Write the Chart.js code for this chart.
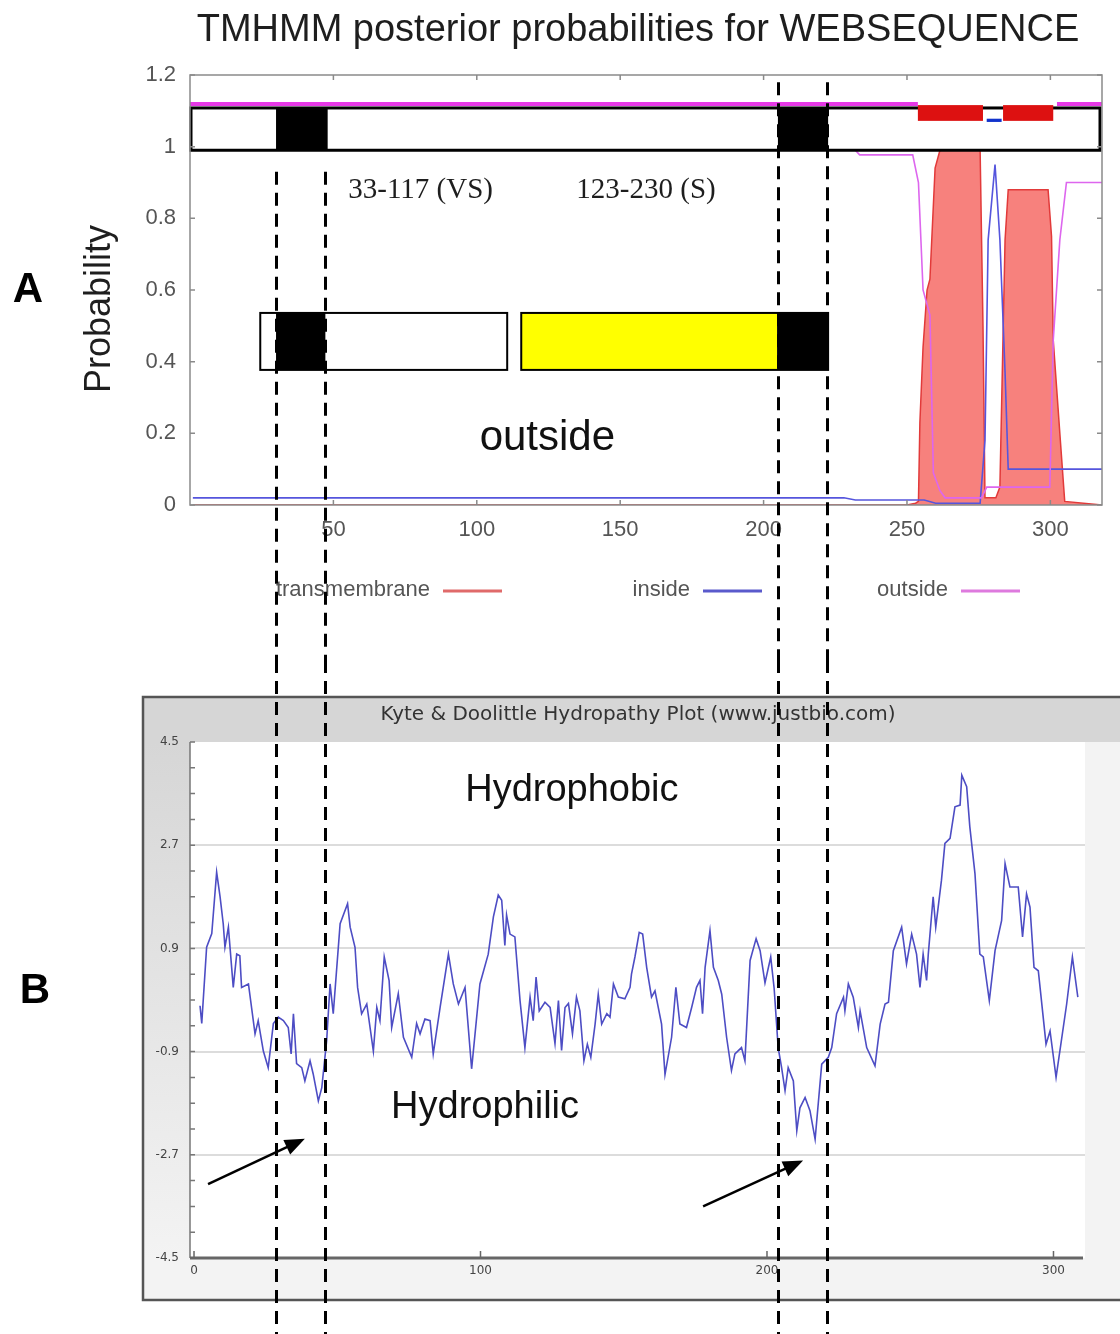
<!DOCTYPE html>
<html>
<head>
<meta charset="utf-8">
<title>TMHMM and hydropathy</title>
<script src="https://cdn.jsdelivr.net/npm/chart.js@4.4.0/dist/chart.umd.min.js"></script>
<style>
    html, body { margin: 0; padding: 0; background: #ffffff; }
    #wrap { position: relative; width: 1120px; height: 1334px; overflow: hidden; }
    #chartA { position: absolute; left: 0; top: 0; }
    #chartB { position: absolute; left: 0; top: 660px; }
</style>
</head>
<body>
<div id="wrap">
    <canvas id="chartA" width="1120" height="660"></canvas>
    <canvas id="chartB" width="1120" height="674"></canvas>
</div>
<script>
(function() {
    'use strict';

    // ---- Painel A: probabilidades posteriores TMHMM ----
    var tmPos  = [1, 250, 253, 254, 254.5, 255.6, 257, 258, 259.8, 261.5, 268, 275.5, 276.5, 277.2, 281, 282.4, 284.2, 285.3, 292, 299.2, 300.4, 301, 303.3, 305, 318];
    var tmProb = [0, 0, 0.005, 0.01, 0.23, 0.44, 0.6, 0.63, 0.94, 0.99, 1.0, 0.99, 0.5, 0.02, 0.02, 0.05, 0.74, 0.88, 0.88, 0.88, 0.75, 0.46, 0.2, 0.01, 0];

    var inPos  = [1, 228, 232, 256, 260, 275.5, 277.2, 278.3, 280.7, 282.4, 284.2, 285.3, 287, 318];
    var inProb = [0.02, 0.02, 0.014, 0.014, 0.005, 0.005, 0.18, 0.74, 0.95, 0.74, 0.37, 0.1, 0.1, 0.1];

    var outPos  = [1, 232, 233.5, 252, 254, 255.6, 258, 259.2, 261.5, 263.3, 276, 277.8, 280, 299.8, 301, 303.3, 305.6, 318];
    var outProb = [0.99, 0.99, 0.977, 0.977, 0.9, 0.6, 0.53, 0.09, 0.04, 0.02, 0.02, 0.05, 0.05, 0.05, 0.46, 0.74, 0.9, 0.9];

    var xTicksA = [50, 100, 150, 200, 250, 300];
    var yTicksA = [0, 0.2, 0.4, 0.6, 0.8, 1, 1.2];

    // faixa superior do TMHMM (topologia prevista)
    var bandOutside = [[0, 253.8], [302.3, 318]];
    var bandTm      = [[253.8, 276.5], [283.5, 301]];
    var bandInside  = [[277.8, 283]];

    // anotações da figura (regiões e domínios)
    var tmBlocks    = [[30, 48], [205, 222.5]];
    var domainBoxes = [[24.5, 110.6, '#ffffff'], [115.5, 204.7, '#ffff00']];
    var domainLabels = [['33-117 (VS)', 80.4], ['123-230 (S)', 159]];
    var dashMarks   = [30, 47, 205, 222];
    var dashStart   = [0.93, 0.93, 1.18, 1.18];

    // ---- Painel B: Kyte & Doolittle ----
    var kdPos = [2.1, 2.7, 4.4, 6.2, 7.9, 9.1, 10.2, 10.8, 12.0, 13.7, 14.9, 16.0, 16.6, 19.0, 21.3, 22.4, 24.2, 25.9, 27.7, 29.4,
        31.2, 32.9, 33.9, 34.7, 35.8, 37.6, 38.7, 40.5, 41.6, 43.4, 44.6, 46.3, 47.5, 48.6, 51.0, 53.6, 54.5, 56.2, 57.1, 58.5,
        60.3, 62.6, 63.8, 64.9, 66.4, 68.1, 69.0, 71.3, 73.1, 76.0, 77.7, 78.9, 80.6, 82.4, 83.5, 85.9, 88.8, 90.5, 92.3, 94.6,
        96.9, 99.8, 102.7, 104.5, 106.2, 107.4, 108.5, 109.1, 110.3, 112.0, 113.8, 115.5, 117.3, 118.4, 119.4, 120.5, 122.5, 124.3, 126.0, 127.2,
        128.3, 129.5, 130.7, 132.1, 133.5, 134.7, 136.1, 137.3, 138.5, 140.0, 141.1, 142.3, 144.1, 145.2, 146.4, 148.1, 150.4, 152.2, 152.7, 153.9,
        155.4, 156.6, 158.0, 159.7, 160.9, 163.2, 164.4, 166.7, 168.2, 169.6, 171.9, 173.7, 175.4, 176.6, 177.5, 178.4, 180.1, 181.3, 183.0, 184.2,
        185.9, 187.6, 188.8, 191.1, 192.3, 194.1, 196.2, 197.6, 199.3, 201.3, 202.5, 203.9, 205.1, 206.3, 207.4, 209.2, 210.4, 211.5, 213.3, 215.0,
        216.8, 219.1, 221.4, 222.6, 224.3, 226.7, 227.2, 228.4, 230.1, 231.9, 232.5, 234.8, 237.7, 239.5, 241.2, 242.4, 244.1, 247.0, 248.7, 250.5,
        252.2, 253.4, 254.5, 255.7, 256.3, 258.0, 258.9, 260.9, 262.1, 263.9, 265.6, 267.4, 268.0, 269.7, 270.8, 272.6, 274.3, 275.5, 277.6, 279.6,
        281.9, 283.1, 284.8, 287.7, 289.2, 290.6, 291.8, 293.2, 294.7, 297.4, 298.8, 300.9, 304.6, 306.6, 308.5];
    var kdScore = [-0.1, -0.41, 0.92, 1.16, 2.23, 1.8, 1.33, 0.92, 1.27, 0.22, 0.8, 0.77, 0.22, 0.28, -0.59, -0.36, -0.89, -1.18, -0.41, -0.3,
        -0.36, -0.48, -0.94, -0.24, -1.11, -1.18, -1.41, -1.06, -1.29, -1.76, -1.53, -0.71, 0.28, -0.24, 1.33, 1.68, 1.27, 0.92, 0.22, -0.24,
        -0.07, -0.89, -0.13, -0.36, 0.75, 0.34, -0.48, 0.11, -0.65, -1.0, -0.41, -0.59, -0.33, -0.36, -0.94, -0.13, 0.8, 0.28, -0.07, 0.22,
        -1.2, 0.28, 0.8, 1.45, 1.83, 1.74, 0.95, 1.48, 1.15, 1.1, -0.01, -0.83, 0.05, -0.36, 0.4, -0.19, -0.04, -0.13, -0.76, -0.01,
        -0.88, -0.13, -0.06, -0.59, 0.05, -0.19, -1.06, -0.77, -1.0, -0.42, 0.1, -0.42, -0.24, -0.3, 0.28, 0.05, 0.02, 0.22, 0.45, 0.75,
        1.18, 1.15, 0.57, 0.05, 0.16, -0.42, -1.3, -0.65, 0.22, -0.42, -0.48, -0.13, 0.22, 0.34, -0.24, 0.57, 1.21, 0.57, 0.34, 0.1,
        -0.65, -1.23, -0.94, -0.83, -1.06, 0.69, 1.07, 0.86, 0.3, 0.75, 0.2, -0.83, -1.18, -1.58, -1.18, -1.41, -2.28, -1.88, -1.7, -1.93,
        -2.43, -1.12, -1.0, -0.83, -0.24, 0.05, -0.19, 0.28, 0.05, -0.48, -0.19, -0.83, -1.15, -0.42, -0.07, -0.04, 0.86, 1.27, 0.63, 1.15,
        0.8, 0.22, 0.8, 0.34, 0.8, 1.8, 1.27, 2.09, 2.73, 2.82, 3.37, 3.4, 3.92, 3.72, 3.02, 2.2, 0.8, 0.75, -0.01, 0.86,
        1.39, 2.38, 1.97, 1.97, 1.1, 1.85, 1.62, 0.57, 0.51, -0.77, -0.54, -1.35, -0.07, 0.75, 0.05];

    var xTicksB = [0, 100, 200, 300];
    var yTicksB = [4.5, 2.7, 0.9, -0.9, -2.7, -4.5];

    // setas (posição, escore) -> (posição, escore)
    var arrowsB = [[4.9, -3.21, 38.7, -2.42], [177.7, -3.6, 212.6, -2.8]];

    var sansFont = "Arial, 'Liberation Sans', sans-serif";
    var tickFont = "'Liberation Sans Narrow', 'Arial Narrow', Arial, sans-serif";
    var kdFont = "'DejaVu Sans', Verdana, sans-serif";

    function toXY(xs, ys) {
        return xs.map(function(x, i) { return { x: x, y: ys[i] }; });
    }

    function fixTicks(list) {
        return function(scale) {
            scale.ticks = list.map(function(v) { return { value: v }; });
        };
    }

    function drawDashes(chart, xs, tops) {
        var ctx = chart.ctx;
        ctx.save();
        ctx.strokeStyle = '#000000';
        ctx.lineWidth = 3;
        ctx.setLineDash([13, 8]);
        dashMarks.forEach(function(m, i) {
            var x = Math.round(xs.getPixelForValue(m)) + 0.5;
            ctx.beginPath();
            ctx.moveTo(x, tops[i]);
            ctx.lineTo(x, chart.height);
            ctx.stroke();
        });
        ctx.restore();
    }

    var decorA = {
        id: 'decorA',
        afterDatasetsDraw: function(chart) {
            var ctx = chart.ctx, xs = chart.scales.x, ys = chart.scales.y, a = chart.chartArea;
            var px = function(v) { return xs.getPixelForValue(v); };
            var py = function(v) { return ys.getPixelForValue(v); };

            ctx.save();

            // caixa superior com segmentos transmembrana
            var bTop = py(1.108), bBot = py(0.99);
            ctx.fillStyle = '#ffffff';
            ctx.fillRect(a.left, bTop, a.right - a.left - 2, bBot - bTop);
            ctx.fillStyle = '#000000';
            tmBlocks.forEach(function(s) {
                ctx.fillRect(px(s[0]), bTop, px(s[1]) - px(s[0]), bBot - bTop);
            });
            ctx.strokeStyle = '#000000';
            ctx.lineWidth = 3;
            ctx.strokeRect(a.left + 1, bTop, a.right - a.left - 3, bBot - bTop);

            // faixa de topologia
            ctx.strokeStyle = '#e639e6';
            ctx.lineWidth = 4;
            bandOutside.forEach(function(s) {
                ctx.beginPath();
                ctx.moveTo(px(s[0]), py(1.119));
                ctx.lineTo(px(s[1]), py(1.119));
                ctx.stroke();
            });
            ctx.fillStyle = '#dd1111';
            bandTm.forEach(function(s) {
                ctx.fillRect(px(s[0]), py(1.116), px(s[1]) - px(s[0]), py(1.072) - py(1.116));
            });
            ctx.fillStyle = '#1133cc';
            bandInside.forEach(function(s) {
                ctx.fillRect(px(s[0]), py(1.078), px(s[1]) - px(s[0]), py(1.069) - py(1.078));
            });

            // caixas de domínio
            var dTop = py(0.536), dBot = py(0.377);
            domainBoxes.forEach(function(b) {
                ctx.fillStyle = b[2];
                ctx.fillRect(px(b[0]), dTop, px(b[1]) - px(b[0]), dBot - dTop);
            });
            ctx.fillStyle = '#000000';
            ctx.fillRect(px(30), dTop, px(47.2) - px(30), dBot - dTop);
            ctx.fillRect(px(204.7), dTop, px(222.5) - px(204.7), dBot - dTop);
            ctx.strokeStyle = '#000000';
            ctx.lineWidth = 2;
            ctx.strokeRect(px(24.5), dTop, px(110.6) - px(24.5), dBot - dTop);
            ctx.strokeRect(px(115.5), dTop, px(222.5) - px(115.5), dBot - dTop);

            // textos
            ctx.fillStyle = '#1e1e1e';
            ctx.textAlign = 'center';
            ctx.textBaseline = 'middle';
            ctx.font = "29px 'Liberation Serif', 'Times New Roman', serif";
            domainLabels.forEach(function(l) {
                ctx.fillText(l[0], px(l[1]), py(0.879));
            });
            ctx.font = '42px ' + sansFont;
            ctx.fillStyle = '#111111';
            ctx.fillText('outside', px(124.6), py(0.187));

            // moldura
            ctx.strokeStyle = '#8a8a8a';
            ctx.lineWidth = 1.5;
            ctx.strokeRect(a.left, a.top, a.right - a.left, a.bottom - a.top);
            ctx.beginPath();
            xTicksA.forEach(function(v) {
                ctx.moveTo(px(v), a.top); ctx.lineTo(px(v), a.top + 5);
                ctx.moveTo(px(v), a.bottom); ctx.lineTo(px(v), a.bottom - 5);
            });
            yTicksA.forEach(function(v) {
                ctx.moveTo(a.left, py(v)); ctx.lineTo(a.left + 5, py(v));
                ctx.moveTo(a.right, py(v)); ctx.lineTo(a.right - 5, py(v));
            });
            ctx.stroke();
            ctx.restore();
        },
        afterDraw: function(chart) {
            var ctx = chart.ctx, ys = chart.scales.y;
            ctx.save();

            // título
            ctx.fillStyle = '#1e1e1e';
            ctx.font = '38px ' + sansFont;
            ctx.textAlign = 'center';
            ctx.textBaseline = 'middle';
            ctx.fillText('TMHMM posterior probabilities for WEBSEQUENCE', 638, 31);

            // rótulo do eixo y
            ctx.translate(100, 309);
            ctx.rotate(-Math.PI / 2);
            ctx.font = '36px ' + sansFont;
            ctx.fillText('Probability', 0, 0);
            ctx.setTransform(1, 0, 0, 1, 0, 0);

            ctx.font = 'bold 42px ' + sansFont;
            ctx.fillStyle = '#000000';
            ctx.fillText('A', 28, 290);

            // legenda: texto seguido da amostra de linha
            var ends = [430, 690, 948];
            var colors = ['#e06a6a', '#5a5acc', '#de7ade'];
            ctx.font = '22px ' + tickFont;
            ctx.textAlign = 'right';
            chart.data.datasets.forEach(function(ds, i) {
                ctx.fillStyle = '#555555';
                ctx.fillText(ds.label, ends[i], 590);
                ctx.strokeStyle = colors[i];
                ctx.lineWidth = 3;
                ctx.beginPath();
                ctx.moveTo(ends[i] + 13, 591);
                ctx.lineTo(ends[i] + 72, 591);
                ctx.stroke();
            });
            ctx.restore();

            drawDashes(chart, chart.scales.x, dashStart.map(function(v) { return ys.getPixelForValue(v); }));
        }
    };

    var chartA = new Chart(document.getElementById('chartA'), {
        type: 'line',
        data: {
            datasets: [{
                label: 'transmembrane',
                data: toXY(tmPos, tmProb),
                borderColor: '#e23a3a',
                backgroundColor: 'rgba(246, 118, 114, 0.92)',
                fill: 'origin',
                borderWidth: 1.5,
                pointRadius: 0,
                order: 3
            }, {
                label: 'inside',
                data: toXY(inPos, inProb),
                borderColor: '#5555dd',
                borderWidth: 1.6,
                pointRadius: 0,
                fill: false,
                order: 2
            }, {
                label: 'outside',
                data: toXY(outPos, outProb),
                borderColor: '#dd66ee',
                borderWidth: 1.6,
                pointRadius: 0,
                fill: false,
                order: 1
            }]
        },
        options: {
            responsive: false,
            animation: false,
            layout: { padding: { left: 80, right: 18, top: 75, bottom: 115 } },
            plugins: {
                legend: { display: false },
                tooltip: { enabled: false }
            },
            scales: {
                x: {
                    type: 'linear',
                    min: 0,
                    max: 318,
                    afterBuildTicks: fixTicks(xTicksA),
                    afterFit: function(s) { s.height = 40; },
                    grid: { display: false, drawTicks: false },
                    border: { display: false },
                    ticks: { color: '#555555', padding: 12, maxRotation: 0, font: { family: tickFont, size: 22 } }
                },
                y: {
                    min: 0,
                    max: 1.2,
                    afterBuildTicks: fixTicks(yTicksA),
                    afterFit: function(s) { s.width = 110; },
                    grid: { display: false, drawTicks: false },
                    border: { display: false },
                    ticks: {
                        color: '#555555',
                        padding: 14,
                        font: { family: tickFont, size: 22 },
                        callback: function(v) { return String(Math.round(v * 10) / 10); }
                    }
                }
            }
        },
        plugins: [decorA]
    });

    // ---- Painel B ----
    var decorB = {
        id: 'decorB',
        beforeDraw: function(chart) {
            var ctx = chart.ctx, a = chart.chartArea;
            ctx.save();
            ctx.fillStyle = '#f3f3f3';
            ctx.fillRect(143, 37, chart.width - 143, 603);
            ctx.fillStyle = '#d6d6d6';
            ctx.fillRect(143, 37, chart.width - 143, a.top - 37);
            var g = ctx.createLinearGradient(0, a.top, 0, a.bottom);
            g.addColorStop(0, '#d6d6d6');
            g.addColorStop(1, '#f3f3f3');
            ctx.fillStyle = g;
            ctx.fillRect(143, a.top, a.left - 143, a.bottom - a.top);
            ctx.fillStyle = '#ffffff';
            ctx.fillRect(a.left, a.top, a.right - a.left, a.bottom - a.top);
            ctx.strokeStyle = '#555555';
            ctx.lineWidth = 2.5;
            ctx.beginPath();
            ctx.moveTo(chart.width, 37);
            ctx.lineTo(143, 37);
            ctx.lineTo(143, 640);
            ctx.lineTo(chart.width, 640);
            ctx.stroke();

            ctx.fillStyle = '#333333';
            ctx.font = '20px ' + kdFont;
            ctx.textAlign = 'center';
            ctx.textBaseline = 'middle';
            ctx.fillText('Kyte & Doolittle Hydropathy Plot (www.justbio.com)', 638, 55);
            ctx.restore();
        },
        afterDatasetsDraw: function(chart) {
            var ctx = chart.ctx, a = chart.chartArea, xs = chart.scales.x, ys = chart.scales.y;
            ctx.save();
            // eixo esquerdo com marcas menores
            ctx.strokeStyle = '#777777';
            ctx.lineWidth = 1.5;
            ctx.beginPath();
            ctx.moveTo(a.left, a.top);
            ctx.lineTo(a.left, a.bottom);
            for (var v = -4.5; v <= 4.5001; v += 0.45) {
                ctx.moveTo(a.left, ys.getPixelForValue(v));
                ctx.lineTo(a.left + 5, ys.getPixelForValue(v));
            }
            ctx.stroke();
            // eixo inferior
            ctx.strokeStyle = '#666666';
            ctx.lineWidth = 3;
            ctx.beginPath();
            ctx.moveTo(a.left, a.bottom);
            ctx.lineTo(a.right - 2, a.bottom);
            ctx.stroke();
            ctx.lineWidth = 1.5;
            ctx.beginPath();
            xTicksB.forEach(function(t) {
                ctx.moveTo(xs.getPixelForValue(t), a.bottom);
                ctx.lineTo(xs.getPixelForValue(t), a.bottom - 7);
            });
            ctx.stroke();

            ctx.fillStyle = '#111111';
            ctx.font = '38px ' + sansFont;
            ctx.textAlign = 'center';
            ctx.textBaseline = 'middle';
            ctx.fillText('Hydrophobic', xs.getPixelForValue(131.9), ys.getPixelForValue(3.66));
            ctx.fillText('Hydrophilic', xs.getPixelForValue(101.6), ys.getPixelForValue(-1.88));

            ctx.font = 'bold 42px ' + sansFont;
            ctx.fillStyle = '#000000';
            ctx.fillText('B', 35, 331);

            // setas
            ctx.strokeStyle = '#000000';
            ctx.fillStyle = '#000000';
            ctx.lineWidth = 2.5;
            arrowsB.forEach(function(r) {
                var x0 = xs.getPixelForValue(r[0]), y0 = ys.getPixelForValue(r[1]);
                var x1 = xs.getPixelForValue(r[2]), y1 = ys.getPixelForValue(r[3]);
                var ang = Math.atan2(y1 - y0, x1 - x0);
                ctx.beginPath();
                ctx.moveTo(x0, y0);
                ctx.lineTo(x1 - 14 * Math.cos(ang), y1 - 14 * Math.sin(ang));
                ctx.stroke();
                ctx.beginPath();
                ctx.moveTo(x1, y1);
                ctx.lineTo(x1 - 20 * Math.cos(ang) + 8 * Math.sin(ang), y1 - 20 * Math.sin(ang) - 8 * Math.cos(ang));
                ctx.lineTo(x1 - 20 * Math.cos(ang) - 8 * Math.sin(ang), y1 - 20 * Math.sin(ang) + 8 * Math.cos(ang));
                ctx.closePath();
                ctx.fill();
            });
            ctx.restore();
        },
        afterDraw: function(chart) {
            drawDashes(chart, chartA.scales.x, [0, 0, 0, 0]);
        }
    };

    new Chart(document.getElementById('chartB'), {
        type: 'line',
        data: {
            datasets: [{
                label: 'Hydropathy',
                data: toXY(kdPos, kdScore),
                borderColor: '#4d4dc4',
                borderWidth: 1.6,
                pointRadius: 0,
                fill: false,
                tension: 0
            }]
        },
        options: {
            responsive: false,
            animation: false,
            layout: { padding: { left: 140, right: 35, top: 82, bottom: 46 } },
            plugins: {
                legend: { display: false },
                tooltip: { enabled: false }
            },
            scales: {
                x: {
                    type: 'linear',
                    min: -1.4,
                    max: 311,
                    afterBuildTicks: fixTicks(xTicksB),
                    afterFit: function(s) { s.height = 30; },
                    grid: { display: false, drawTicks: false },
                    border: { display: false },
                    ticks: { color: '#444444', padding: 6, maxRotation: 0, font: { family: kdFont, size: 12 } }
                },
                y: {
                    min: -4.5,
                    max: 4.5,
                    afterBuildTicks: fixTicks(yTicksB),
                    afterFit: function(s) { s.width = 50; },
                    grid: {
                        drawTicks: false,
                        lineWidth: 2,
                        color: function(c) { return Math.abs(c.tick.value) > 4 ? 'rgba(0,0,0,0)' : '#dcdcdc'; }
                    },
                    border: { display: false },
                    ticks: {
                        color: '#444444',
                        padding: 11,
                        font: { family: kdFont, size: 12 },
                        callback: function(v) { return v.toFixed(1); }
                    }
                }
            }
        },
        plugins: [decorB]
    });
})();
</script>
</body>
</html>
